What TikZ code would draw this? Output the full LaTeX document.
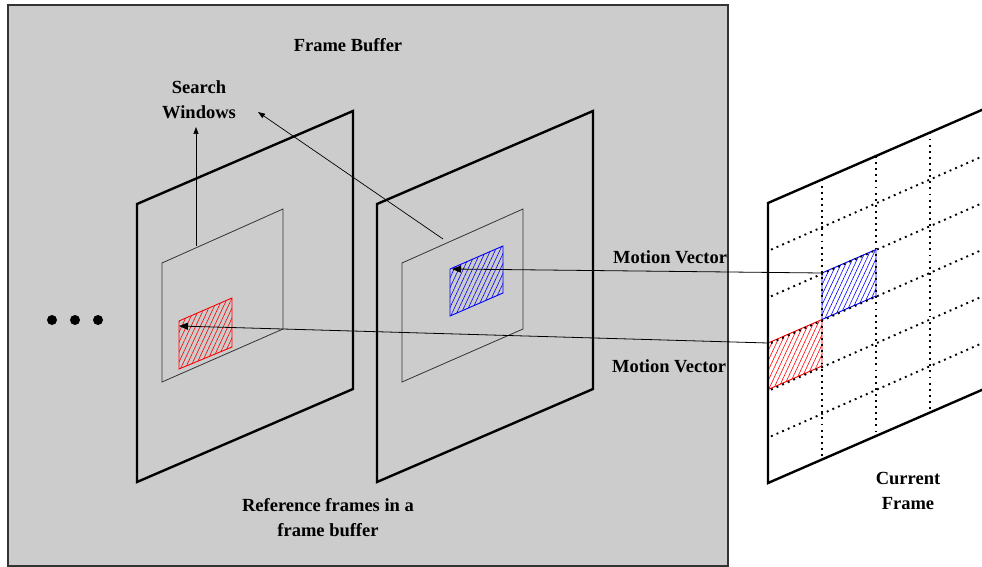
\documentclass[tikz,border=0pt]{standalone}
\usepackage{fontspec}
\setmainfont{Liberation Serif}
\usetikzlibrary{arrows.meta, patterns.meta}
\tikzset {
    refframe/.style={line width=2.4pt, line join=miter},
    window/.style={draw=black!80, line width=0.8pt},
    redblock/.style={draw=red, line width=0.9pt, pattern={Lines[angle=65, distance=4.2pt, line width=0.6pt]}, pattern color=red},
    blueblock/.style={draw=blue, line width=0.9pt, pattern={Lines[angle=65, distance=4.2pt, line width=0.6pt]}, pattern color=blue},
    gridline/.style={line width=1.9pt, dash pattern=on 1.9pt off 4.2pt},
    mv/.style={-{Triangle[length=9pt, width=7pt]}, line width=0.8pt},
    sw/.style={-{Triangle[length=7pt, width=5pt]}, line width=0.7pt},
    txt/.style={font=\bfseries\fontsize{18.5}{25}\selectfont, align=center, inner sep=0pt}
}

\begin{document}
\begin{tikzpicture}[x=1pt, y=-1pt]
                    \useasboundingbox (0,0) rectangle (982,567);

                    % frame buffer
                    \draw[draw=black!80, line width=1.5pt, fill=black!20] (8,5) rectangle (728,566);

                    % reference frames
                    \draw[refframe] (137,204) -- (353,111) -- (353,389) -- (137,482) -- cycle;
                    \draw[refframe] (377,204) -- (593,111) -- (593,389) -- (377,482) -- cycle;
                    \draw[window] (162,263) -- (283,209) -- (283,329) -- (162,382) -- cycle;
                    \draw[window] (402,263) -- (523,209) -- (523,329) -- (402,382) -- cycle;
                    \draw[redblock] (179,321) -- (232,298) -- (232,347) -- (179,369) -- cycle;
                    \draw[blueblock] (450,269) -- (503,246) -- (503,293) -- (450,316) -- cycle;

                    \coordinate (ra) at (179,326);
                    \coordinate (ba) at (452,269);
                    \coordinate (w1) at (196,246);
                    \coordinate (w2) at (443,239);
                    \coordinate (t1) at (196,127);
                    \coordinate (t2) at (258,112);

                    % dots
                    \fill (52,320) circle (5);
                    \fill (75,320) circle (5);
                    \fill (98,320) circle (5);

                    % current frame
                    \draw[refframe, fill=white] (768,203) -- (984,109) -- (984,389) -- (768,483) -- cycle;
                    \draw[blueblock] (822,273) -- (876,249.5) -- (876,296) -- (822,319.5) -- cycle;
                    \draw[redblock] (768,343) -- (822,319.5) -- (822,366) -- (768,389.5) -- cycle;
                    \foreach \k in {1,2,3}
                        \draw[gridline] (768+54*\k, 203-23.5*\k) -- (768+54*\k, 483-23.5*\k);
                    \foreach \j in {1,...,5}
                        \draw[gridline] (771, 203+46.67*\j) -- (984, 109+46.67*\j);
                    \draw[refframe] (768,203) -- (768,483);

                    \coordinate (rb) at (768,343);
                    \coordinate (bb) at (822,273);

                    % labels
                    \node[txt] (fb) at (348,45) {Frame Buffer};
                    \node[txt] (sw) at (199,100) {Search\\Windows};
                    \node[txt] (mv1) at (670,257) {Motion Vector};
                    \node[txt] (mv2) at (669,366) {Motion Vector};
                    \node[txt] (rf) at (328,518) {Reference frames in a\\frame buffer};
                    \node[txt] (cf) at (908,491) {Current\\Frame};

                    % vectors
                    \draw[mv] (bb) -- (ba);
                    \draw[mv] (rb) -- (ra);
                    \draw[sw] (w1) -- (t1);
                    \draw[sw] (w2) -- (t2);
                    \end{tikzpicture}
\end{document}
